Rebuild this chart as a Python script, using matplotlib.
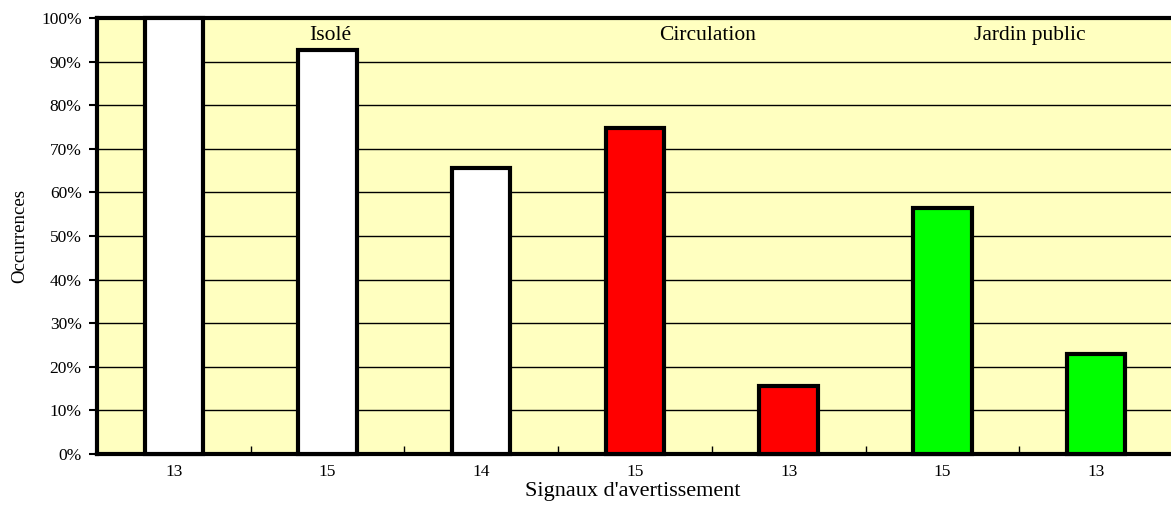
import numpy as np
import matplotlib.pyplot as plt
from matplotlib.ticker import MultipleLocator, PercentFormatter

plt.rcParams['font.family'] = ['Liberation Serif', 'DejaVu Serif']

# Occurrences des signaux d'avertissement par type de site
signaux = ['13', '15', '14', '15', '13', '15', '13']
occurrences = [100.0, 92.6, 65.6, 74.8, 15.6, 56.4, 23.0]
couleurs = ['white', 'white', 'white', 'red', 'red', '#00ff00', '#00ff00']

sites = ['Isolé', 'Circulation', 'Jardin public']
pos_sites = [1.02, 3.47, 5.57]

fig = plt.figure(figsize=(11.71, 5.09), dpi=100)
ax = fig.add_axes([0.0828, 0.108, 0.9189, 0.8566])
ax.set_facecolor('#ffffc0')

x = np.arange(len(signaux))
ax.bar(x, occurrences, width=0.38, color=couleurs, edgecolor='black',
       linewidth=3, zorder=3, clip_on=False)

ax.set_xlim(-0.5, len(signaux) - 0.5)
ax.set_ylim(0, 100)
ax.yaxis.set_major_locator(MultipleLocator(10))
ax.yaxis.set_major_formatter(PercentFormatter(decimals=0))
ax.grid(axis='y', color='black', lw=1.0, zorder=1)
ax.set_axisbelow(True)

ax.set_xticks(x)
ax.set_xticklabels(signaux)
ax.set_xticks(np.arange(0.5, len(signaux) - 0.5), minor=True)
ax.tick_params(axis='x', which='major', length=0, pad=7.5, labelsize=12.5)
ax.tick_params(axis='x', which='minor', direction='in', length=6, width=1)
ax.tick_params(axis='y', direction='out', length=6, width=1.5, pad=5, labelsize=12.5)

for s in ax.spines.values():
    s.set_linewidth(3)

for nom, px in zip(sites, pos_sites):
    ax.text(px, 96.1, nom, ha='center', va='center', fontsize=15.5, zorder=4)

ax.set_xlabel("Signaux d'avertissement", fontsize=16, va='center')
ax.xaxis.set_label_coords(0.498, -0.087)
ax.set_ylabel('Occurrences', fontsize=13.5, va='center')
ax.yaxis.set_label_coords(-0.072, 0.5)

fig.savefig('out.png', dpi=100)
